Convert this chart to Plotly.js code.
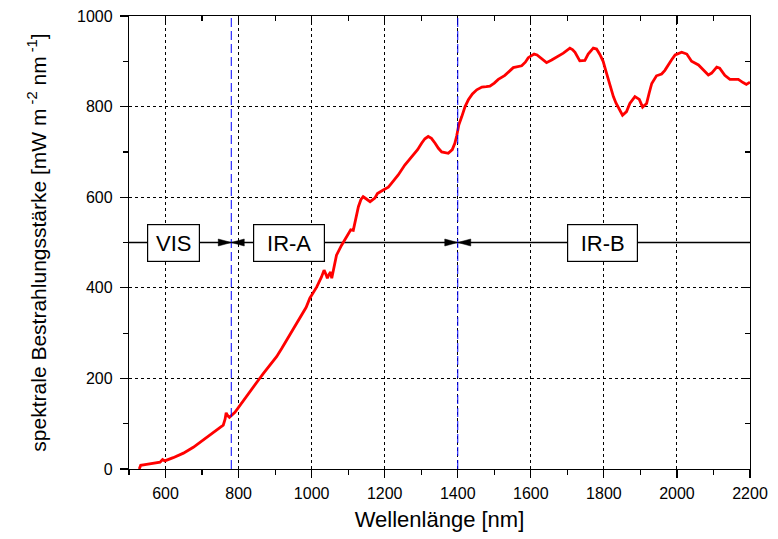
<!DOCTYPE html>
<html>
<head>
<meta charset="utf-8">
<script src="https://cdn.plot.ly/plotly-3.0.1.min.js"></script>
<style>html,body{margin:0;padding:0;background:#fff;}#chart{width:778px;height:539px;}</style>
</head>
<body>
<div id="chart"></div>
<script>
const wavelength = [528,532,548,571,585,592,598,621,649,676,703,731,758,763,766,770,775,790,804,822,840,855,868,885,904,918,932,954,973,985,995,1005,1014,1027,1034,1040,1043,1048,1052,1055,1060,1068,1082,1090,1100,1107,1114,1122,1128,1135,1141,1150,1160,1173,1180,1196,1210,1219,1237,1255,1265,1278,1290,1301,1310,1319,1328,1338,1347,1356,1365,1374,1385,1392,1397,1403,1411,1420,1429,1440,1452,1466,1478,1488,1500,1511,1529,1540,1552,1575,1585,1593,1609,1617,1625,1634,1643,1657,1671,1689,1707,1714,1721,1734,1748,1757,1771,1780,1789,1798,1805,1812,1819,1826,1833,1840,1851,1862,1871,1885,1897,1906,1917,1924,1931,1944,1958,1967,1976,1985,1995,2013,2027,2040,2059,2072,2086,2095,2109,2117,2131,2145,2168,2181,2190,2200];
const irradiance = [0,8,10,13,15,21,18,25,35,48,64,79,97,110,124,118,114,125,141,160,182,197,211,228,248,266,285,314,340,357,377,390,402,424,439,428,421,430,435,421,440,472,494,505,520,528,527,555,579,595,601,596,590,598,608,616,622,631,649,671,680,693,705,719,729,734,730,719,708,700,698,697,705,719,735,760,778,800,815,828,837,843,844,845,852,860,869,878,886,890,898,908,916,914,909,902,897,903,909,918,929,926,920,901,902,916,929,927,915,900,880,859,840,822,808,796,781,789,807,822,816,799,807,830,851,868,872,880,892,903,914,920,916,900,892,881,870,874,887,885,869,860,860,853,849,854];

const bandBorders = [780, 1400];
const bandLevel = 500;
const bandLabels = ["VIS", "IR-A", "IR-B"];
const bandLabelX = [623, 938, 1795];
const bandBoxWidth = [51, 70, 69];

const xTitle = "Wellenlänge [nm]";
const yTitle = "spektrale Bestrahlungsstärke [mW m<sup> -2</sup> nm<sup> -1</sup>]";

const FONT = "Liberation Sans, Arial, sans-serif";
const xRange = [500, 2200];
const yRange = [0, 1000];

const traces = [
  {x: wavelength, y: irradiance, type: "scatter", mode: "lines",
   line: {color: "#ff0000", width: 2.8}, hoverinfo: "skip", showlegend: false},
  {x: [null], y: [null], xaxis: "x2", yaxis: "y2", type: "scatter", mode: "lines",
   hoverinfo: "skip", showlegend: false}
];

const shapes = [];
bandBorders.forEach(b => shapes.push({type: "line", xref: "x", yref: "y", x0: b, x1: b, y0: yRange[0], y1: yRange[1],
  line: {color: "#0000ff", width: 1, dash: "9px,4px"}, layer: "above"}));
shapes.push({type: "line", xref: "x", yref: "y", x0: xRange[0], x1: xRange[1], y0: bandLevel, y1: bandLevel,
  line: {color: "#000", width: 1.3}, layer: "below"});
// arrowheads meeting at each band border (pixel-sized triangles anchored at the border)
bandBorders.forEach(b => {
  shapes.push({type: "path", xref: "x", yref: "y", xsizemode: "pixel", ysizemode: "pixel", xanchor: b, yanchor: bandLevel,
    path: "M0,0 L-13,3.5 L-13,-3.5 Z", fillcolor: "#000", line: {color: "#000", width: 0.5}, layer: "above"});
  shapes.push({type: "path", xref: "x", yref: "y", xsizemode: "pixel", ysizemode: "pixel", xanchor: b, yanchor: bandLevel,
    path: "M0,0 L13,3.5 L13,-3.5 Z", fillcolor: "#000", line: {color: "#000", width: 0.5}, layer: "above"});
});

const annotations = [];
bandLabels.forEach((t, i) => annotations.push({x: bandLabelX[i], y: bandLevel, xref: "x", yref: "y", text: t, showarrow: false,
  font: {family: FONT, size: 22, color: "#000"}, bgcolor: "#fff", bordercolor: "#000", borderwidth: 1.2, borderpad: 0,
  width: bandBoxWidth[i], height: 36, xanchor: "center", yanchor: "middle"}));

const baseAxis = {showline: true, linecolor: "#000", linewidth: 1.2, zeroline: false, ticks: "outside", ticklen: 8,
  tickwidth: 1.2, tickcolor: "#000", tickfont: {family: FONT, size: 16, color: "#000"},
  showgrid: true, gridcolor: "#000", gridwidth: 1, griddash: "dot"};

const layout = {
  width: 778, height: 539,
  margin: {l: 129, r: 28, t: 16, b: 70},
  paper_bgcolor: "#fff", plot_bgcolor: "#fff",
  font: {family: FONT, color: "#000"},
  xaxis: Object.assign({}, baseAxis, {range: xRange, tick0: 0, dtick: 200, ticklabelstandoff: 2,
    minor: {dtick: 100, ticks: "outside", ticklen: 5, tickwidth: 1.2, tickcolor: "#000", showgrid: false},
    title: {text: xTitle, font: {family: FONT, size: 22}, standoff: 10}}),
  yaxis: Object.assign({}, baseAxis, {range: yRange, tick0: 0, dtick: 200, ticklabelstandoff: 4,
    minor: {dtick: 100, ticks: "outside", ticklen: 5, tickwidth: 1.2, tickcolor: "#000", showgrid: false},
    title: {text: yTitle, font: {family: FONT, size: 21}, standoff: 24}}),
  xaxis2: {overlaying: "x", side: "top", anchor: "y", range: xRange, tick0: 0, dtick: 200, showline: true, linecolor: "#000",
    linewidth: 1.2, ticks: "inside", ticklen: 8, tickwidth: 1.2, tickcolor: "#000", showticklabels: false, showgrid: false, zeroline: false,
    minor: {dtick: 100, ticks: "inside", ticklen: 5, tickwidth: 1.2, tickcolor: "#000", showgrid: false}},
  yaxis2: {overlaying: "y", side: "right", anchor: "x", range: yRange, tick0: 0, dtick: 200, showline: true, linecolor: "#000",
    linewidth: 1.2, ticks: "inside", ticklen: 8, tickwidth: 1.2, tickcolor: "#000", showticklabels: false, showgrid: false, zeroline: false,
    minor: {dtick: 100, ticks: "inside", ticklen: 5, tickwidth: 1.2, tickcolor: "#000", showgrid: false}},
  shapes: shapes,
  annotations: annotations,
  showlegend: false
};

Plotly.newPlot("chart", traces, layout, {displayModeBar: false, staticPlot: true});
</script>
</body>
</html>
